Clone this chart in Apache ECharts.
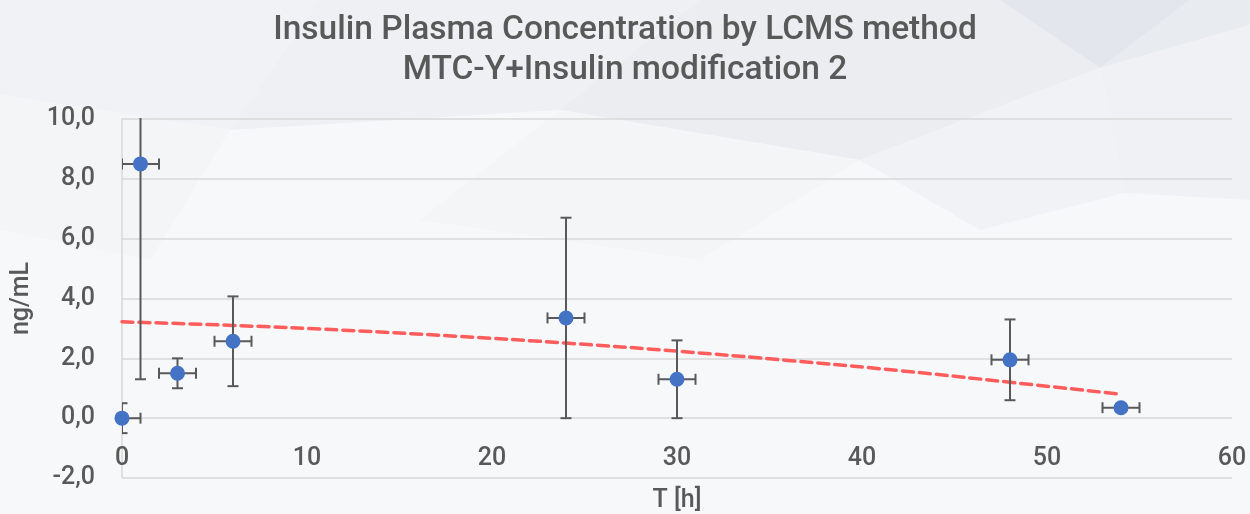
<!DOCTYPE html>
<html>
<head>
<meta charset="utf-8">
<script src="https://cdn.jsdelivr.net/npm/echarts@6/dist/echarts.min.js"></script>
<style>
html,body{margin:0;padding:0;background:#f7f8fa;}
#chart{width:1250px;height:514px;}
</style>
</head>
<body>
<div id="chart"></div>
<script>
// ---- data ----
var timeH   = [0, 1, 3, 6, 24, 30, 48, 54];
var conc    = [0, 8.5, 1.5, 2.57, 3.35, 1.3, 1.95, 0.35];
var concErr = [0.5, 7.2, 0.5, 1.5, 3.35, 1.3, 1.35, 0.12];
var timeErr = [1, 1, 1, 1, 1, 1, 1, 1];
var trendX  = [0, 6, 12, 18, 24, 30, 36, 42, 48, 54];
var trendY  = [3.22, 3.10, 2.94, 2.74, 2.51, 2.24, 1.93, 1.59, 1.20, 0.80];
var xTicks  = [0, 10, 20, 30, 40, 50, 60];
var yTicks  = [-2, 0, 2, 4, 6, 8, 10];

var TEXT = '#595959';
var GRIDC = '#d9d9d9';
var FONT = 'Roboto, "Noto Sans", sans-serif';

var points = timeH.map(function(t, i){ return [t, conc[i]]; });
var errData = timeH.map(function(t, i){ return [t, conc[i], concErr[i], timeErr[i]]; });
var trend = trendX.map(function(t, i){ return [t, trendY[i]]; });

var chart = echarts.init(document.getElementById('chart'), null, {renderer:'canvas'});

function bgPolys(){
  var polys = [
    {pts:[[0,0],[320,0],[230,130],[0,95]], c:'#f1f2f5'},
    {pts:[[320,0],[700,0],[560,110],[230,130]], c:'#eef0f3'},
    {pts:[[700,0],[1000,0],[1100,68],[860,160],[560,110]], c:'#ebedf1'},
    {pts:[[1000,0],[1190,0],[1100,68]], c:'#e3e6ec'},
    {pts:[[1190,0],[1250,0],[1250,25],[1100,68]], c:'#e8ebef'},
    {pts:[[1100,68],[1250,25],[1250,200],[1124,193]], c:'#eff1f4'},
    {pts:[[860,160],[1100,68],[1124,193],[980,230]], c:'#f0f2f5'},
    {pts:[[0,95],[230,130],[150,260],[0,230]], c:'#f4f5f7'},
    {pts:[[560,110],[860,160],[700,260],[420,220]], c:'#f4f5f7'}
  ];
  return polys.map(function(p){
    return {type:'polygon', silent:true, z:-10, shape:{points:p.pts}, style:{fill:p.c}};
  });
}

var option = {
  backgroundColor: '#f7f8fa',
  animation: false,
  graphic: bgPolys(),
  title: {
    text: 'Insulin Plasma Concentration by LCMS method\nMTC-Y+Insulin modification 2',
    left: 'center',
    top: 6,
    textStyle: {color: TEXT, fontFamily: FONT, fontSize: 33.5, fontWeight: 500, lineHeight: 40}
  },
  grid: {left: 122, right: 18, top: 119, bottom: 36, containLabel: false, outerBoundsMode: 'none'},
  xAxis: {
    type: 'value', min: 0, max: 60, interval: 10,
    offset: -60,
    name: 'T [h]', nameLocation: 'middle', nameGap: 70,
    nameTextStyle: {color: TEXT, fontFamily: FONT, fontSize: 25, fontWeight: 500},
    axisLine: {show: false, onZero: false},
    axisTick: {show: false},
    splitLine: {show: false},
    axisLabel: {color: TEXT, fontFamily: FONT, fontSize: 25, fontWeight: 500, margin: 28,
      formatter: function(v){ return xTicks.indexOf(v) >= 0 ? String(v) : ''; }}
  },
  yAxis: {
    type: 'value', min: -2, max: 10, interval: 2,
    name: 'ng/mL', nameLocation: 'middle', nameGap: 88, nameRotate: 90,
    nameTextStyle: {color: TEXT, fontFamily: FONT, fontSize: 25, fontWeight: 500},
    axisLine: {show: true, onZero: false, lineStyle: {color: GRIDC, width: 1.5}},
    axisTick: {show: false},
    splitLine: {show: true, lineStyle: {color: GRIDC, width: 1.5}},
    axisLabel: {color: TEXT, fontFamily: FONT, fontSize: 25, fontWeight: 500, margin: 27,
      formatter: function(v){ return yTicks.indexOf(v) >= 0 ? v.toFixed(1).replace('.', ',') : ''; }}
  },
  series: [
    {
      type: 'line', data: trend, smooth: true, symbol: 'none', z: 2,
      lineStyle: {color: '#ff5c5c', width: 3.5, type: [11, 6], cap: 'round'}
    },
    {
      type: 'custom', data: errData, z: 3,
      renderItem: function(params, api){
        var x = api.value(0), y = api.value(1), ey = api.value(2), ex = api.value(3);
        var c = api.coord([x, y]);
        var top = api.coord([x, y + ey]);
        var bot = api.coord([x, y - ey]);
        var lft = api.coord([x - ex, y]);
        var rgt = api.coord([x + ex, y]);
        var cw = 5.5;
        var st = {stroke: '#595959', lineWidth: 2};
        var cs = params.coordSys;
        var ch = [
          {type:'line', shape:{x1:c[0], y1:top[1], x2:c[0], y2:bot[1]}, style:st},
          {type:'line', shape:{x1:c[0]-cw, y1:top[1], x2:c[0]+cw, y2:top[1]}, style:st},
          {type:'line', shape:{x1:c[0]-cw, y1:bot[1], x2:c[0]+cw, y2:bot[1]}, style:st},
          {type:'line', shape:{x1:lft[0], y1:c[1], x2:rgt[0], y2:c[1]}, style:st},
          {type:'line', shape:{x1:lft[0], y1:c[1]-cw, x2:lft[0], y2:c[1]+cw}, style:st},
          {type:'line', shape:{x1:rgt[0], y1:c[1]-cw, x2:rgt[0], y2:c[1]+cw}, style:st}
        ];
        return {
          type: 'group', children: ch,
          clipPath: {type:'rect', shape:{x: cs.x, y: cs.y - 1, width: cs.width, height: cs.height + 2}}
        };
      }
    },
    {
      type: 'scatter', data: points, symbolSize: 15, clip: false, z: 4,
      itemStyle: {color: '#4472c4', opacity: 1}
    }
  ]
};
chart.setOption(option);
</script>
</body>
</html>
